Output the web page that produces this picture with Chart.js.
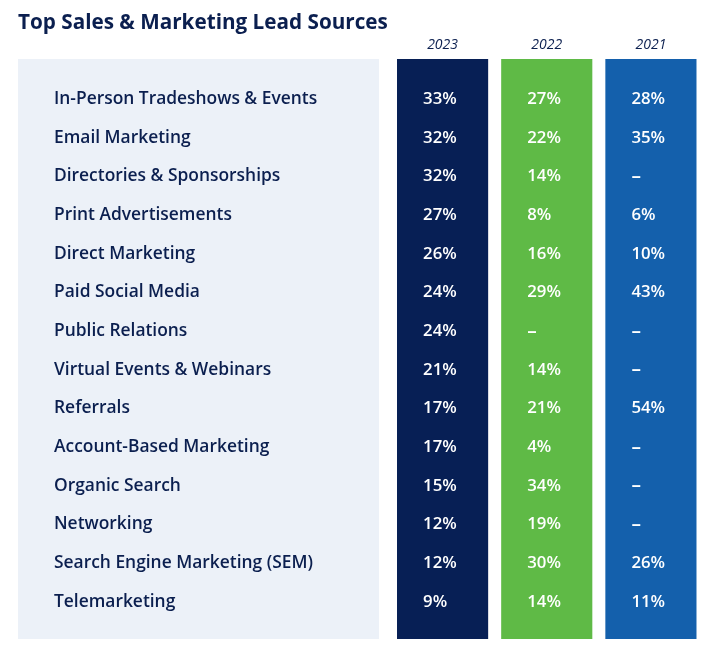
<!DOCTYPE html>
<html>
<head>
<meta charset="utf-8">
<script src="https://cdn.jsdelivr.net/npm/chart.js@4/dist/chart.umd.min.js"></script>
<style>
  html, body { margin: 0; padding: 0; background: #ffffff; }
  #wrap { width: 703px; height: 651px; }
</style>
</head>
<body>
<div id="wrap"><canvas id="leadChart"></canvas></div>
<script>
// Lead sources, in the order shown
var categories = [
    'In-Person Tradeshows & Events',
    'Email Marketing',
    'Directories & Sponsorships',
    'Print Advertisements',
    'Direct Marketing',
    'Paid Social Media',
    'Public Relations',
    'Virtual Events & Webinars',
    'Referrals',
    'Account-Based Marketing',
    'Organic Search',
    'Networking',
    'Search Engine Marketing (SEM)',
    'Telemarketing'
];
var years = ['2023', '2022', '2021'];
// Percent of respondents, null where the source was not asked that year
var values2023 = [33, 32, 32, 27, 26, 24, 24, 21, 17, 17, 15, 12, 12, 9];
var values2022 = [27, 22, 14, 8, 16, 29, null, 14, 21, 4, 34, 19, 30, 14];
var values2021 = [28, 35, null, 6, 10, 43, null, null, 54, null, null, null, 26, 11];

var yearValues = [values2023, values2022, values2021];
var yearColors = ['#071f55', '#5fba46', '#1460ac'];
var navy = '#0b1f4f';
var fontFamily = '"Open Sans", Lato, sans-serif';

// Each year column is one floating bar covering the whole table height
var columnRange = [-1, categories.length];

var tablePlugin = {
    id: 'tablePlugin',
    beforeDraw: function(chart) {
        // light panel behind the source names
        var ctx = chart.ctx;
        var yScale = chart.scales.y;
        var area = chart.chartArea;
        ctx.save();
        ctx.fillStyle = '#ecf1f8';
        ctx.fillRect(yScale.left, area.top, yScale.width - 11.5, area.bottom - area.top);
        ctx.restore();
    },
    afterDatasetsDraw: function(chart) {
        var ctx = chart.ctx;
        var xScale = chart.scales.x;
        var yScale = chart.scales.y;
        ctx.save();
        ctx.textBaseline = 'middle';
        ctx.textAlign = 'left';

        // source names
        ctx.fillStyle = navy;
        ctx.font = '600 17.4px ' + fontFamily;
        for (var i = 0; i < categories.length; i++) {
            ctx.fillText(categories[i], yScale.left + 36, yScale.getPixelForValue(i) + 1.5);
        }

        // cell values
        ctx.fillStyle = '#ffffff';
        for (var j = 0; j < years.length; j++) {
            var colX = xScale.getPixelForValue(j) - 19.5;
            for (var r = 0; r < categories.length; r++) {
                var v = yearValues[j][r];
                var y = yScale.getPixelForValue(r) + 1.5;
                if (v === null) {
                    ctx.font = '600 19px ' + fontFamily;
                    ctx.fillText('\u2013', colX, y);
                } else {
                    ctx.font = '600 16.8px ' + fontFamily;
                    ctx.fillText(v + '%', colX, y);
                }
            }
        }
        ctx.restore();
    }
};

var ctx = document.getElementById('leadChart').getContext('2d');
var leadChart = new Chart(ctx, {
    type: 'bar',
    data: {
        labels: years,
        datasets: [{
            data: years.map(function() { return columnRange; }),
            backgroundColor: yearColors,
            borderWidth: 0,
            borderSkipped: false,
            barPercentage: 0.875,
            categoryPercentage: 1
        }]
    },
    options: {
        responsive: true,
        maintainAspectRatio: false,
        animation: false,
        layout: { padding: { left: 18, right: 0, top: 0, bottom: 12 } },
        plugins: {
            legend: { display: false },
            tooltip: { enabled: false },
            title: {
                display: true,
                text: 'Top Sales & Marketing Lead Sources',
                align: 'start',
                color: navy,
                font: { family: fontFamily, size: 20.7, weight: 'bold' },
                padding: { top: 11, bottom: 1.2 }
            }
        },
        scales: {
            x: {
                type: 'category',
                position: 'top',
                grid: { display: false, drawTicks: false },
                border: { display: false },
                ticks: {
                    color: navy,
                    padding: 6,
                    font: { family: fontFamily, size: 14, style: 'italic' }
                },
                afterFit: function(scale) { scale.height = 22; }
            },
            y: {
                type: 'linear',
                reverse: true,
                min: -1,
                max: categories.length,
                grid: { display: false, drawTicks: false },
                border: { display: false },
                ticks: { display: false },
                afterFit: function(scale) { scale.width = 372.5; }
            }
        }
    },
    plugins: [tablePlugin]
});
</script>
</body>
</html>
